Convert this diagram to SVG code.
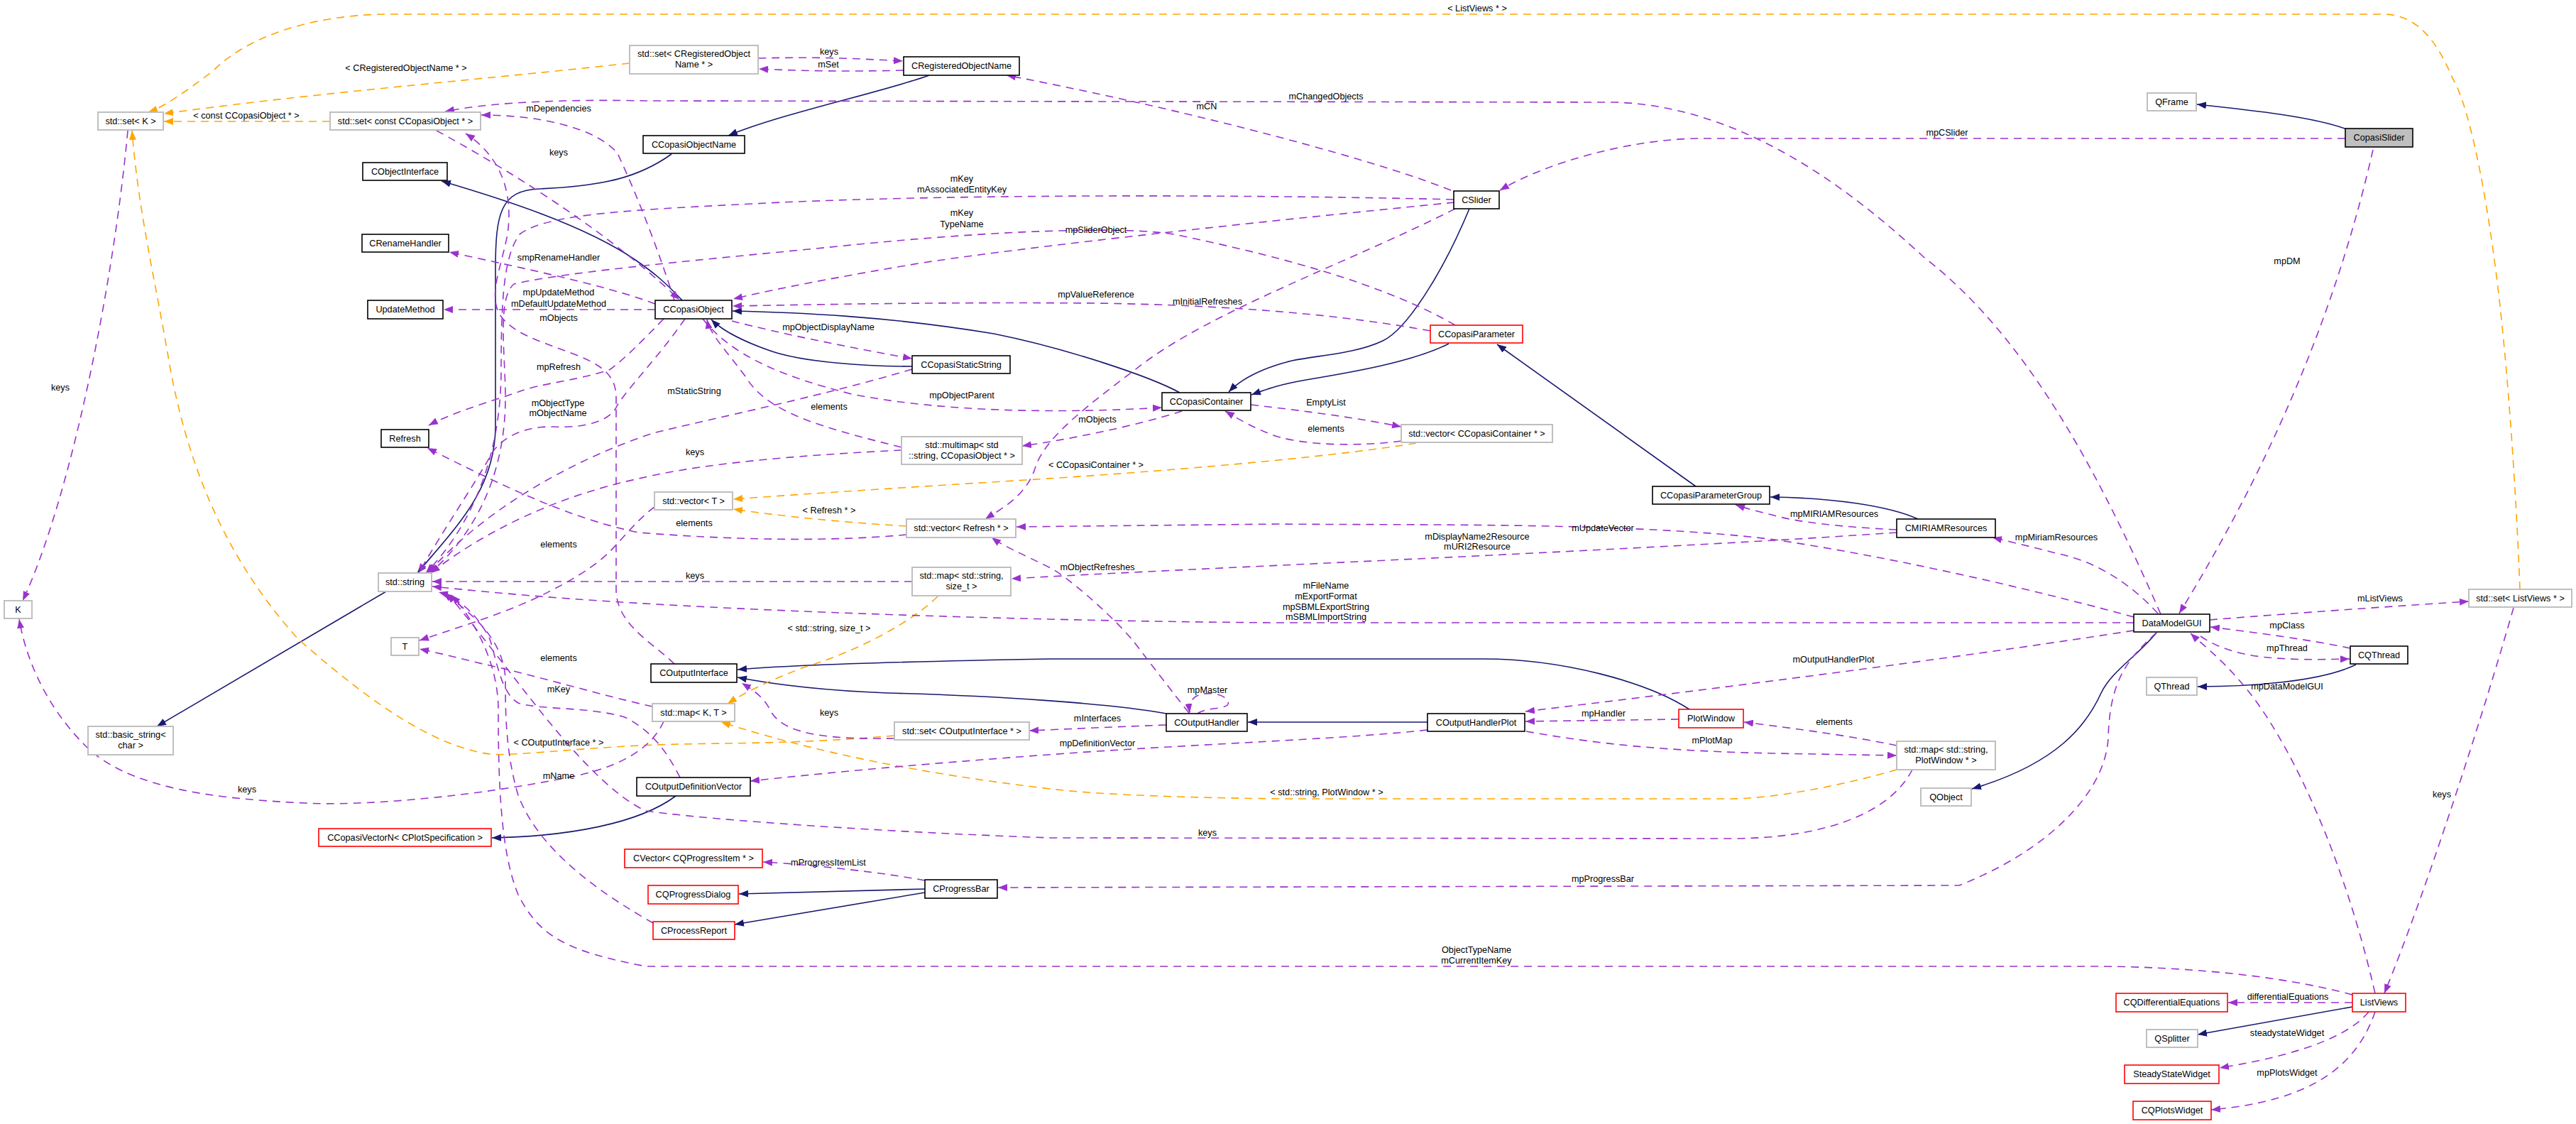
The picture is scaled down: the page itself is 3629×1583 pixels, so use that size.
<svg xmlns="http://www.w3.org/2000/svg" width="3629" height="1583" viewBox="0 0 3629 1583">
<style>
  text { font-family: "Liberation Sans", Arial, Helvetica, sans-serif; font-size: 12.7px; fill: #000; text-anchor: middle; }
  .n rect { fill: #fff; stroke: #000; stroke-width: 1.6; }
  .n.g rect { stroke: #bfbfbf; stroke-width: 2; }
  .n.r rect { stroke: #ff0000; }
  .n.s rect { fill: #bfbfbf; }
  .i { fill: none; stroke: #191970; stroke-width: 1.6; marker-end: url(#an); }
  .u { fill: none; stroke: #9a32cd; stroke-width: 1.6; stroke-dasharray: 11 8; marker-end: url(#ap); }
  .t { fill: none; stroke: #ffa500; stroke-width: 1.6; stroke-dasharray: 11 8; marker-end: url(#ao); }
</style>
<defs>
  <marker id="an" markerUnits="userSpaceOnUse" viewBox="0 0 13 10" refX="13" refY="5" markerWidth="13" markerHeight="10" orient="auto"><path d="M0,0 L13,5 L0,10 z" fill="#191970" stroke="none"/></marker>
  <marker id="ap" markerUnits="userSpaceOnUse" viewBox="0 0 13 10" refX="13" refY="5" markerWidth="13" markerHeight="10" orient="auto"><path d="M0,0 L13,5 L0,10 z" fill="#9a32cd" stroke="none"/></marker>
  <marker id="ao" markerUnits="userSpaceOnUse" viewBox="0 0 13 10" refX="13" refY="5" markerWidth="13" markerHeight="10" orient="auto"><path d="M0,0 L13,5 L0,10 z" fill="#ffa500" stroke="none"/></marker>
</defs>
<rect x="0" y="0" width="3629" height="1583" fill="#fff"/>

<g id="connectors">
  <!-- inheritance -->
  <path class="i" d="M3306,182 C3260,165 3180,156 3095,147"/>
  <path class="i" d="M1309,106 C1250,128 1100,160 1026,191"/>
  <path class="i" d="M946,217 C900,250 850,262 760,266 C705,268 698,300 698,380 L698,600 C698,690 640,745 588,807"/>
  <path class="i" d="M961,423 C935,395 918,382 895,366 C820,315 700,278 622,255"/>
  <path class="i" d="M1285,516 C1220,516 1130,510 1085,494 C1050,482 1018,466 1002,450"/>
  <path class="i" d="M1662,553 C1620,530 1500,490 1400,470 C1250,445 1120,440 1032,438"/>
  <path class="i" d="M2070,294 C2030,390 1980,465 1948,480 C1910,498 1860,500 1820,508 C1780,518 1750,532 1731,552"/>
  <path class="i" d="M2041,484 C1990,510 1900,525 1840,535 C1800,542 1785,548 1763,556"/>
  <path class="i" d="M2389,685 L2109,485"/>
  <path class="i" d="M2702,731 C2660,712 2580,701 2494,700"/>
  <path class="i" d="M1643,1005 C1560,990 1400,980 1250,976 C1150,972 1080,962 1039,954"/>
  <path class="i" d="M2011,1017 L1758,1017"/>
  <path class="i" d="M2380,999 C2320,960 2200,928 2090,928 L1480,928 C1250,932 1100,938 1039,943"/>
  <path class="i" d="M3038,891 C3010,925 2975,945 2960,976 C2940,1020 2900,1075 2778,1111"/>
  <path class="i" d="M3319,936 C3270,960 3170,967 3096,967"/>
  <path class="i" d="M952,1121 C900,1160 800,1178 693,1180"/>
  <path class="i" d="M1303,1252 L1041,1259"/>
  <path class="i" d="M1303,1257 L1035,1302"/>
  <path class="i" d="M3314,1418 L3096,1457"/>
  <path class="i" d="M544,833 L221,1023"/>

  <!-- template instances -->
  <path class="t" d="M887,89 C700,110 450,130 231,160"/>
  <path class="t" d="M465,171 L231,171"/>
  <path class="t" d="M3550,830 C3545,700 3535,560 3527,480 C3510,300 3480,150 3455,110 C3430,50 3400,20 3357,20 L540,20 C440,22 350,50 300,100 C260,130 232,150 209,158"/>
  <path class="t" d="M1260,1036 C1100,1050 1000,1045 900,1050 C800,1055 720,1065 690,1062 C600,1050 500,970 420,900 C330,800 270,680 240,520 C220,400 195,300 186,184"/>
  <path class="t" d="M1995,624 C1900,640 1700,660 1445,676 C1250,688 1100,698 1033,703"/>
  <path class="t" d="M1277,741 C1180,735 1100,727 1033,717"/>
  <path class="t" d="M1321,840 C1280,880 1200,920 1132,940 C1080,960 1050,975 1025,991"/>
  <path class="t" d="M2672,1084 C2600,1105 2500,1125 2438,1125 L1810,1125 C1700,1124 1550,1120 1480,1111 C1300,1090 1150,1060 1016,1017"/>

  <!-- usage relations -->
  <path class="u" d="M3304,195 L2398,195 C2300,195 2180,228 2113,268"/>
  <path class="u" d="M3343,211 C3300,400 3220,620 3070,864"/>
  <path class="u" d="M3044,865 C2950,650 2850,470 2710,362 C2600,260 2450,150 2276,144 L910,142 C820,140 700,142 627,157"/>
  <path class="u" d="M2044,268 C1950,230 1700,160 1418,106"/>
  <path class="u" d="M2048,281 C1800,275 1400,272 1100,285 C900,295 770,300 732,330 C710,360 706,420 706,520 C706,650 660,745 600,807"/>
  <path class="u" d="M2050,458 C1950,400 1800,360 1654,330 C1580,318 1400,325 1200,345 C1000,365 800,382 724,400 C700,420 712,500 712,560 C712,680 660,760 606,807"/>
  <path class="u" d="M2049,285 C1900,300 1500,340 1300,370 C1150,395 1080,410 1033,421"/>
  <path class="u" d="M2015,466 C1900,445 1750,430 1544,427 C1300,425 1100,430 1032,431"/>
  <path class="u" d="M2050,294 C1900,370 1700,440 1600,520 C1520,580 1470,620 1458,660 C1445,700 1405,720 1388,731"/>
  <path class="u" d="M950,423 C930,360 900,280 870,216 C840,180 760,162 678,162"/>
  <path class="u" d="M615,184 C700,230 850,320 957,422"/>
  <path class="u" d="M950,935 C920,905 868,880 868,830 L868,560 C868,530 850,515 812,500 C760,480 720,470 702,440 C690,410 705,380 715,330 C722,280 712,225 656,188"/>
  <path class="u" d="M923,428 C850,400 700,370 633,355"/>
  <path class="u" d="M923,436 L625,436"/>
  <path class="u" d="M1031,452 C1100,470 1200,490 1285,505"/>
  <path class="u" d="M935,449 C905,480 880,505 860,520 C820,535 760,540 730,552 C690,566 640,580 604,599"/>
  <path class="u" d="M965,449 C930,500 890,540 870,570 C860,595 820,603 780,601 C740,600 710,615 695,635 C670,680 622,750 590,807"/>
  <path class="u" d="M1285,520 C1150,560 1000,590 920,610 C800,650 680,720 603,807"/>
  <path class="u" d="M990,449 C1030,500 1100,530 1200,555 C1300,575 1450,585 1637,574"/>
  <path class="u" d="M1270,630 C1150,600 1080,580 1050,530 C1020,490 1000,470 996,450"/>
  <path class="u" d="M1665,579 C1600,600 1500,620 1440,628"/>
  <path class="u" d="M1270,634 C1150,640 1000,650 900,674 C780,700 680,750 607,807"/>
  <path class="u" d="M1762,570 C1850,580 1920,590 1974,601"/>
  <path class="u" d="M1974,621 C1950,625 1860,632 1800,615 C1770,605 1748,592 1726,579"/>
  <path class="u" d="M2672,746 C2590,742 2530,735 2496,725 C2475,720 2460,716 2445,711"/>
  <path class="u" d="M3040,864 C3000,820 2950,790 2900,780 C2870,772 2840,765 2807,757"/>
  <path class="u" d="M3006,869 C2900,840 2700,790 2500,760 C2300,735 2000,740 1800,738 L1432,742"/>
  <path class="u" d="M2672,750 C2500,762 2300,772 2100,782 C1900,792 1600,805 1425,815"/>
  <path class="u" d="M1675,1004 C1640,960 1610,920 1596,902 C1560,860 1500,810 1480,800 C1440,780 1415,770 1397,757"/>
  <path class="u" d="M3006,877 L1800,877 C1500,875 1200,865 1000,855 C800,845 700,835 609,826"/>
  <path class="u" d="M3113,873 C3250,862 3400,852 3478,847"/>
  <path class="u" d="M3311,913 C3250,900 3170,890 3114,883"/>
  <path class="u" d="M3100,896 C3150,930 3220,930 3310,928"/>
  <path class="u" d="M3346,1399 C3300,1200 3230,1060 3180,990 C3140,935 3105,910 3086,892"/>
  <path class="u" d="M3541,856 C3500,1000 3420,1250 3359,1399"/>
  <path class="u" d="M3314,1412 L3139,1412"/>
  <path class="u" d="M3337,1425 C3300,1470 3200,1492 3127,1504"/>
  <path class="u" d="M3346,1425 C3320,1500 3260,1550 3115,1563"/>
  <path class="u" d="M3038,891 C2995,930 2972,960 2970,1040 C2965,1120 2880,1200 2760,1247 L1406,1250"/>
  <path class="u" d="M3006,888 C2800,920 2500,960 2149,1002"/>
  <path class="u" d="M2365,1013 L2149,1016"/>
  <path class="u" d="M2150,1030 C2250,1048 2350,1058 2500,1061 L2672,1064"/>
  <path class="u" d="M2672,1050 C2600,1035 2520,1025 2457,1017"/>
  <path class="u" d="M1687,1005 C1700,995 1735,1000 1730,988 C1725,975 1690,972 1680,985 C1676,990 1675,996 1676,1004"/>
  <path class="u" d="M1643,1021 C1560,1024 1500,1027 1450,1029"/>
  <path class="u" d="M1260,1040 C1150,1042 1100,1030 1085,1000 C1075,980 1058,970 1045,962"/>
  <path class="u" d="M2011,1028 C1900,1040 1750,1045 1546,1058 C1300,1075 1150,1090 1057,1100"/>
  <path class="u" d="M1303,1240 C1250,1230 1150,1218 1075,1214"/>
  <path class="u" d="M2694,1084 C2660,1150 2560,1181 2438,1181 L1480,1180 C1250,1172 1000,1155 910,1142 C860,1120 800,1050 760,1000 C720,950 660,870 630,836"/>
  <path class="u" d="M958,1095 C940,1060 920,1030 880,1010 C830,995 760,1000 730,990 C705,975 700,930 690,900 C670,860 640,840 618,834"/>
  <path class="u" d="M920,1300 C850,1260 760,1200 730,1120 C712,1060 712,1000 712,960 C712,900 660,860 624,835"/>
  <path class="u" d="M3314,1401 C3200,1370 3050,1361 2950,1361 L910,1361 C800,1340 760,1320 730,1260 C705,1200 702,1100 702,1000 C702,930 665,870 636,838"/>
  <path class="u" d="M919,995 C850,980 750,950 680,935 C640,925 610,918 591,914"/>
  <path class="u" d="M922,714 C900,730 880,755 859,777 C830,805 790,825 760,840 C700,868 640,885 591,902"/>
  <path class="u" d="M1277,753 C1150,765 1000,758 900,750 C800,730 700,680 602,631"/>
  <path class="u" d="M1285,819 L609,819"/>
  <path class="u" d="M180,184 C160,400 100,700 32,846"/>
  <path class="u" d="M935,1016 C920,1050 880,1080 800,1095 C650,1125 500,1135 430,1131 C300,1125 180,1110 120,1050 C60,990 35,920 27,872"/>
  <path class="u" d="M1068,82 C1150,80 1200,82 1272,86"/>
  <path class="u" d="M1273,99 C1200,101 1130,100 1069,97"/>
</g>

<g id="edge-labels">
  <text x="2081" y="16">&lt; ListViews * &gt;</text>
  <text x="1868" y="140">mChangedObjects</text>
  <text x="2743" y="191">mpCSlider</text>
  <text x="3222" y="372">mpDM</text>
  <text x="1168" y="77">keys</text>
  <text x="1167" y="95">mSet</text>
  <text x="572" y="100">&lt; CRegisteredObjectName * &gt;</text>
  <text x="347" y="167">&lt; const CCopasiObject * &gt;</text>
  <text x="787" y="157">mDependencies</text>
  <text x="1700" y="154">mCN</text>
  <text x="787" y="219">keys</text>
  <text x="1355" y="256">mKey</text>
  <text x="1355" y="271">mAssociatedEntityKey</text>
  <text x="1355" y="304">mKey</text>
  <text x="1355" y="320">TypeName</text>
  <text x="1544" y="328">mpSliderObject</text>
  <text x="787" y="367">smpRenameHandler</text>
  <text x="787" y="416">mpUpdateMethod</text>
  <text x="787" y="432">mDefaultUpdateMethod</text>
  <text x="787" y="452">mObjects</text>
  <text x="1544" y="419">mpValueReference</text>
  <text x="1701" y="429">mInitialRefreshes</text>
  <text x="1167" y="465">mpObjectDisplayName</text>
  <text x="787" y="521">mpRefresh</text>
  <text x="978" y="555">mStaticString</text>
  <text x="1355" y="561">mpObjectParent</text>
  <text x="1168" y="577">elements</text>
  <text x="1868" y="571">EmptyList</text>
  <text x="786" y="572">mObjectType</text>
  <text x="786" y="586">mObjectName</text>
  <text x="1546" y="595">mObjects</text>
  <text x="1868" y="608">elements</text>
  <text x="979" y="641">keys</text>
  <text x="1544" y="659">&lt; CCopasiContainer * &gt;</text>
  <text x="1168" y="723">&lt; Refresh * &gt;</text>
  <text x="2584" y="728">mpMIRIAMResources</text>
  <text x="978" y="741">elements</text>
  <text x="2258" y="748">mUpdateVector</text>
  <text x="2081" y="760">mDisplayName2Resource</text>
  <text x="2081" y="774">mURI2Resource</text>
  <text x="2897" y="761">mpMiriamResources</text>
  <text x="787" y="771">elements</text>
  <text x="1546" y="803">mObjectRefreshes</text>
  <text x="979" y="815">keys</text>
  <text x="1868" y="829">mFileName</text>
  <text x="1868" y="844">mExportFormat</text>
  <text x="1868" y="859">mpSBMLExportString</text>
  <text x="1868" y="873">mSBMLImportString</text>
  <text x="3353" y="847">mListViews</text>
  <text x="3222" y="885">mpClass</text>
  <text x="1168" y="889">&lt; std::string, size_t &gt;</text>
  <text x="3222" y="917">mpThread</text>
  <text x="787" y="931">elements</text>
  <text x="2583" y="933">mOutputHandlerPlot</text>
  <text x="3222" y="971">mpDataModelGUI</text>
  <text x="787" y="975">mKey</text>
  <text x="1701" y="976">mpMaster</text>
  <text x="1168" y="1008">keys</text>
  <text x="2259" y="1009">mpHandler</text>
  <text x="1546" y="1016">mInterfaces</text>
  <text x="2584" y="1021">elements</text>
  <text x="2412" y="1047">mPlotMap</text>
  <text x="787" y="1050">&lt; COutputInterface * &gt;</text>
  <text x="1546" y="1051">mpDefinitionVector</text>
  <text x="787" y="1097">mName</text>
  <text x="348" y="1116">keys</text>
  <text x="1869" y="1120">&lt; std::string, PlotWindow * &gt;</text>
  <text x="3440" y="1123">keys</text>
  <text x="1701" y="1177">keys</text>
  <text x="1167" y="1219">mProgressItemList</text>
  <text x="2258" y="1242">mpProgressBar</text>
  <text x="2080" y="1342">ObjectTypeName</text>
  <text x="2080" y="1357">mCurrentItemKey</text>
  <text x="3223" y="1408">differentialEquations</text>
  <text x="3222" y="1459">steadystateWidget</text>
  <text x="3222" y="1515">mpPlotsWidget</text>
  <text x="85" y="550">keys</text>
</g>

<g id="n-CopasiSlider" class="n s"><rect x="3304" y="181" width="95" height="26"/><text x="3351.5" y="198.4">CopasiSlider</text></g>
<g id="n-QFrame" class="n g"><rect x="3025" y="131" width="69" height="25"/><text x="3059.5" y="147.9">QFrame</text></g>
<g id="n-CSlider" class="n"><rect x="2048" y="269" width="64" height="25"/><text x="2080" y="285.9">CSlider</text></g>
<g id="n-CCopasiParameter" class="n r"><rect x="2015" y="458" width="130" height="25"/><text x="2080" y="474.9">CCopasiParameter</text></g>
<g id="n-CRegisteredObjectName" class="n"><rect x="1273" y="80" width="163" height="26"/><text x="1354.5" y="97.4">CRegisteredObjectName</text></g>
<g id="n-set-CRegisteredObjectName" class="n g"><rect x="887" y="64" width="181" height="40"/><text x="977.5" y="80.4">std::set&lt; CRegisteredObject</text><text x="977.5" y="95.4">Name * &gt;</text></g>
<g id="n-set-K" class="n g"><rect x="138" y="158" width="92" height="25"/><text x="184" y="174.9">std::set&lt; K &gt;</text></g>
<g id="n-set-const-CCopasiObject" class="n g"><rect x="465" y="158" width="212" height="25"/><text x="571" y="174.9">std::set&lt; const CCopasiObject * &gt;</text></g>
<g id="n-CCopasiObjectName" class="n"><rect x="906" y="191" width="143" height="25"/><text x="977.5" y="207.9">CCopasiObjectName</text></g>
<g id="n-CObjectInterface" class="n"><rect x="511" y="229" width="119" height="25"/><text x="570.5" y="245.9">CObjectInterface</text></g>
<g id="n-CRenameHandler" class="n"><rect x="510" y="330" width="122" height="25"/><text x="571" y="346.9">CRenameHandler</text></g>
<g id="n-UpdateMethod" class="n"><rect x="518" y="423" width="106" height="26"/><text x="571" y="440.4">UpdateMethod</text></g>
<g id="n-CCopasiObject" class="n"><rect x="923" y="423" width="108" height="26"/><text x="977" y="440.4">CCopasiObject</text></g>
<g id="n-CCopasiStaticString" class="n"><rect x="1285" y="501" width="138" height="25"/><text x="1354" y="517.9">CCopasiStaticString</text></g>
<g id="n-Refresh" class="n"><rect x="537" y="605" width="67" height="25"/><text x="570.5" y="621.9">Refresh</text></g>
<g id="n-CCopasiContainer" class="n"><rect x="1637" y="553" width="125" height="25"/><text x="1699.5" y="569.9">CCopasiContainer</text></g>
<g id="n-vector-CCopasiContainer" class="n g"><rect x="1974" y="598" width="213" height="25"/><text x="2080.5" y="614.9">std::vector&lt; CCopasiContainer * &gt;</text></g>
<g id="n-multimap" class="n g"><rect x="1270" y="615" width="170" height="39"/><text x="1355" y="631.4">std::multimap&lt; std</text><text x="1355" y="645.9">::string, CCopasiObject * &gt;</text></g>
<g id="n-vector-T" class="n g"><rect x="922" y="693" width="110" height="25"/><text x="977" y="709.9">std::vector&lt; T &gt;</text></g>
<g id="n-vector-Refresh" class="n g"><rect x="1277" y="731" width="154" height="26"/><text x="1354" y="748.4">std::vector&lt; Refresh * &gt;</text></g>
<g id="n-CCopasiParameterGroup" class="n"><rect x="2328" y="685" width="165" height="25"/><text x="2410.5" y="701.9">CCopasiParameterGroup</text></g>
<g id="n-CMIRIAMResources" class="n"><rect x="2672" y="731" width="139" height="26"/><text x="2741.5" y="748.4">CMIRIAMResources</text></g>
<g id="n-string" class="n g"><rect x="533" y="807" width="75" height="26"/><text x="570.5" y="824.4">std::string</text></g>
<g id="n-map-string-size_t" class="n g"><rect x="1285" y="799" width="139" height="40"/><text x="1354.5" y="815.4">std::map&lt; std::string,</text><text x="1354.5" y="830.4">size_t &gt;</text></g>
<g id="n-K" class="n g"><rect x="6" y="846" width="39" height="25"/><text x="25.5" y="862.9">K</text></g>
<g id="n-DataModelGUI" class="n"><rect x="3006" y="865" width="107" height="25"/><text x="3059.5" y="881.9">DataModelGUI</text></g>
<g id="n-set-ListViews" class="n g"><rect x="3478" y="830" width="145" height="25"/><text x="3550.5" y="846.9">std::set&lt; ListViews * &gt;</text></g>
<g id="n-T" class="n g"><rect x="551" y="898" width="39" height="25"/><text x="570.5" y="914.9">T</text></g>
<g id="n-CQThread" class="n"><rect x="3311" y="910" width="81" height="25"/><text x="3351.5" y="926.9">CQThread</text></g>
<g id="n-COutputInterface" class="n"><rect x="917" y="935" width="121" height="26"/><text x="977.5" y="952.4">COutputInterface</text></g>
<g id="n-QThread" class="n g"><rect x="3024" y="954" width="71" height="25"/><text x="3059.5" y="970.9">QThread</text></g>
<g id="n-map-K-T" class="n g"><rect x="919" y="991" width="116" height="25"/><text x="977" y="1007.9">std::map&lt; K, T &gt;</text></g>
<g id="n-PlotWindow" class="n r"><rect x="2365" y="999" width="91" height="26"/><text x="2410.5" y="1016.4">PlotWindow</text></g>
<g id="n-COutputHandler" class="n"><rect x="1643" y="1005" width="114" height="25"/><text x="1700" y="1021.9">COutputHandler</text></g>
<g id="n-COutputHandlerPlot" class="n"><rect x="2011" y="1005" width="137" height="25"/><text x="2079.5" y="1021.9">COutputHandlerPlot</text></g>
<g id="n-set-COutputInterface" class="n g"><rect x="1260" y="1017" width="190" height="25"/><text x="1355" y="1033.9">std::set&lt; COutputInterface * &gt;</text></g>
<g id="n-basic_string" class="n g"><rect x="124" y="1023" width="120" height="40"/><text x="184" y="1039.4">std::basic_string&lt;</text><text x="184" y="1054.4">char &gt;</text></g>
<g id="n-map-string-PlotWindow" class="n g"><rect x="2672" y="1044" width="139" height="40"/><text x="2741.5" y="1060.4">std::map&lt; std::string,</text><text x="2741.5" y="1075.4">PlotWindow * &gt;</text></g>
<g id="n-COutputDefinitionVector" class="n"><rect x="897" y="1095" width="160" height="26"/><text x="977" y="1112.4">COutputDefinitionVector</text></g>
<g id="n-QObject" class="n g"><rect x="2706" y="1110" width="71" height="25"/><text x="2741.5" y="1126.9">QObject</text></g>
<g id="n-CCopasiVectorN" class="n r"><rect x="449" y="1167" width="243" height="25"/><text x="570.5" y="1183.9">CCopasiVectorN&lt; CPlotSpecification &gt;</text></g>
<g id="n-CVector-CQProgressItem" class="n r"><rect x="880" y="1196" width="194" height="26"/><text x="977" y="1213.4">CVector&lt; CQProgressItem * &gt;</text></g>
<g id="n-CProgressBar" class="n"><rect x="1303" y="1239" width="102" height="26"/><text x="1354" y="1256.4">CProgressBar</text></g>
<g id="n-CQProgressDialog" class="n r"><rect x="913" y="1247" width="127" height="26"/><text x="976.5" y="1264.4">CQProgressDialog</text></g>
<g id="n-CProcessReport" class="n r"><rect x="920" y="1298" width="115" height="25"/><text x="977.5" y="1314.9">CProcessReport</text></g>
<g id="n-ListViews" class="n r"><rect x="3314" y="1399" width="75" height="26"/><text x="3351.5" y="1416.4">ListViews</text></g>
<g id="n-CQDifferentialEquations" class="n r"><rect x="2981" y="1399" width="157" height="26"/><text x="3059.5" y="1416.4">CQDifferentialEquations</text></g>
<g id="n-QSplitter" class="n g"><rect x="3024" y="1450" width="72" height="25"/><text x="3060" y="1466.9">QSplitter</text></g>
<g id="n-SteadyStateWidget" class="n r"><rect x="2993" y="1500" width="133" height="26"/><text x="3059.5" y="1517.4">SteadyStateWidget</text></g>
<g id="n-CQPlotsWidget" class="n r"><rect x="3005" y="1551" width="110" height="26"/><text x="3060" y="1568.4">CQPlotsWidget</text></g>
</svg>
